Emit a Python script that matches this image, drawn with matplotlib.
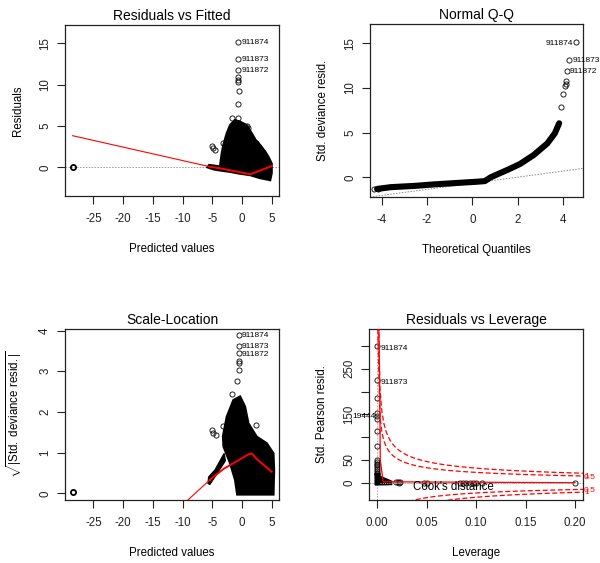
import matplotlib
matplotlib.use('Agg')
import matplotlib.pyplot as plt
import numpy as np

plt.rcParams['font.family'] = ['Liberation Sans', 'DejaVu Sans']
plt.rcParams['mathtext.fontset'] = 'custom'
plt.rcParams['mathtext.rm'] = 'Liberation Sans'
plt.rcParams['mathtext.it'] = 'Liberation Sans:italic'
plt.rcParams['axes.unicode_minus'] = False

# ---------------- data ----------------
obs_labels = ['911874', '911873', '911872']

# Residuals vs Fitted
rvf_blob_x = [-3.4, -3.13, -2.56, -2.0, -1.2, -0.3, 0.8, 1.65, 2.3, 3.05, 3.9, 4.5, 5.0, 5.0, 4.75, 3.0, 1.4, -0.5, -2.0, -3.5, -4.8, -5.8, -5.5, -3.7]
rvf_blob_y = [1.7, 2.7, 4.1, 5.1, 5.7, 5.5, 5.1, 4.1, 3.3, 2.7, 1.9, 1.2, 0.45, -0.7, -1.55, -1.3, -0.95, -0.75, -0.55, -0.4, -0.25, 0.0, 0.28, 0.1]
rvf_pts_x = [-0.6, -0.6, -0.65, -0.44, -0.7, -1.72, -0.7, -5.08, -4.8, -4.5, -3.13, 2.37, 0.8, 1.0]
rvf_pts_y = [10.88, 10.52, 10.3, 9.26, 7.69, 5.92, 5.9, 2.57, 2.3, 2.09, 2.9, 2.9, 5.0, 4.8]
rvf_far_x = [-28.5]
rvf_far_y = [0.05]
rvf_lab_x = [-0.6, -0.6, -0.6]
rvf_lab_y = [15.16, 13.06, 11.77]
rvf_smooth_x = [-28.5, -5.4, -3.7, 1.4, 5.0]
rvf_smooth_y = [3.82, 0.07, -0.12, -0.85, 0.15]

# Normal Q-Q
qq_curve_x = [-4.2, -3.6, -2.5, -1.7, -0.5, 0.2, 0.55, 0.8, 1.2, 1.6, 2.1, 2.7, 3.3, 3.63, 3.82]
qq_curve_y = [-1.3, -1.1, -0.95, -0.79, -0.6, -0.49, -0.42, 0.0, 0.45, 0.9, 1.5, 2.5, 3.8, 4.93, 6.05]
qq_pts_x = [-4.35, -4.15, 3.9, 3.97, 4.07, 4.1, 4.12]
qq_pts_y = [-1.35, -1.3, 7.84, 9.29, 10.22, 10.5, 10.78]
qq_lab_x = [4.56, 4.27, 4.15]
qq_lab_y = [15.1, 13.13, 11.9]
qq_line_intercept = -0.66
qq_line_slope = 0.341

# Scale-Location
sl_blob_x = [-3.2, -2.56, -1.45, -0.32, 0.52, 1.08, 2.49, 4.17, 5.3, 5.4, 5.3, -0.8, -1.16, -2.0, -3.1]
sl_blob_y = [1.4, 1.88, 2.29, 2.38, 2.13, 1.72, 1.39, 1.23, 0.98, 0.57, -0.03, -0.03, 0.33, 0.74, 1.15]
sl_band_x = [-5.7, -5.6, -4.5, -3.0, -2.8, -4.4, -5.4]
sl_band_y = [0.24, 0.40, 0.58, 0.98, 0.80, 0.44, 0.22]
sl_pts_x = [-5.08, -4.95, -4.36, -3.13, 2.37, -1.72, -0.77, -0.55, -0.5, -0.45]
sl_pts_y = [1.56, 1.49, 1.43, 1.65, 1.68, 2.44, 2.77, 3.03, 3.21, 3.26]
sl_far_x = [-28.5]
sl_far_y = [0.02]
sl_lab_x = [-0.49, -0.49, -0.49]
sl_lab_y = [3.89, 3.62, 3.44]
sl_smooth_x = [-28.5, -5.4, -3.1, -1.2, 1.0, 1.65, 2.5, 5.0]
sl_smooth_y = [-2.77, 0.33, 0.6, 0.76, 0.95, 0.98, 0.84, 0.53]

# Residuals vs Leverage
rl_blob_x = [-0.0022, 0.0027, 0.0027, 0.006, 0.0105, 0.0146, 0.0146, -0.0022]
rl_blob_y = [20, 20, 14, 11, 7, 3, -4, -5]
rl_col_x = [0.0] * 9
rl_col_y = [50, 46, 42, 38, 34, 30, 26, 22, 18]
rl_pts_x = [0.0, 0.0, 0.0, 0.0, 0.0, 0.0, 0.0185, 0.0205, 0.022, 0.0226, 0.047, 0.05,
            0.0837, 0.0868, 0.0901, 0.0935, 0.0969, 0.1003, 0.1057, 0.2001]
rl_pts_y = [185, 154, 146, 139, 114, 81, 1, 2, 0, 1, 0, 0, 0, 0, 0, 0, 0, 0, 0, 0]
rl_lab_x = [0.0, 0.0]
rl_lab_y = [300, 225]
rl_lab2_x = [0.0]
rl_lab2_y = [145]
rl_lab2 = ['19444']
rl_smooth_x = [0.0015, 0.0025, 0.003, 0.006, 0.2]
rl_smooth_y = [345, 200, 50, 2, 0]
cook_levels = [0.5, 1.0]
n_coef = 113.5
cook_label_y_upper = [11, 14]
cook_label_y_lower = [-18, -21]

# ---------------- figure ----------------
W, H = 600, 563
fig = plt.figure(figsize=(W / 100, H / 100), dpi=100)


def add_ax(x0, y0, x1, y1):
    return fig.add_axes([x0 / W, 1 - y1 / H, (x1 - x0) / W, (y1 - y0) / H])


ax1 = add_ax(65, 25, 279, 196)
ax2 = add_ax(370, 24, 583, 197)
ax3 = add_ax(65, 329, 279, 500)
ax4 = add_ax(369, 329, 583, 500)

mk = dict(marker='o', ls='none', mfc='none', mec='black', ms=3.7, mew=0.6)
lab_fs = 6.0


def style(ax, title, xlabel, ylabel, xticks, yticks, ytlabels=None):
    ax.set_title(title, fontsize=10, pad=3.5)
    ax.set_xlabel(xlabel, fontsize=8.3, labelpad=13)
    ax.set_ylabel(ylabel, fontsize=8.3, labelpad=11)
    ax.set_xticks(xticks)
    ax.set_yticks(yticks)
    if ytlabels is not None:
        ax.set_yticklabels(ytlabels)
    ax.tick_params(axis='x', direction='out', length=6, width=0.8, labelsize=8.3, pad=6,
                   color='#222222', labelcolor='#222222')
    ax.tick_params(axis='y', direction='out', length=6, width=0.8, labelsize=8.3, pad=4,
                   color='#222222', labelcolor='#222222')
    for lab in ax.get_yticklabels():
        lab.set_rotation(90)
        lab.set_va('center')
    for s in ax.spines.values():
        s.set_linewidth(0.9)
        s.set_color('#222222')


# ---- Residuals vs Fitted ----
ax = ax1
ax.axhline(0, color='#999999', ls=(0, (1.5, 1.5)), lw=0.7, zorder=1)
ax.fill(rvf_blob_x, rvf_blob_y, color='black', ec='black', lw=1.6, zorder=2)
ax.plot(rvf_pts_x, rvf_pts_y, **mk, zorder=3)
ax.plot(rvf_lab_x, rvf_lab_y, **mk, zorder=3)
ax.plot(rvf_far_x, rvf_far_y, **{**mk, 'mew': 1.3}, zorder=3)
ax.plot(rvf_smooth_x[:2], rvf_smooth_y[:2], color='red', lw=0.8, zorder=4)
ax.plot(rvf_smooth_x[1:], rvf_smooth_y[1:], color='red', lw=1.4, zorder=4)
for x, y, t in zip(rvf_lab_x, rvf_lab_y, obs_labels):
    ax.annotate(t, (x, y), xytext=(2.2, -0.5), textcoords='offset points',
                fontsize=lab_fs, va='center', ha='left')
ax.set_xlim(-29.77, 6.23)
ax.set_ylim(-3.47, 17.2)
style(ax, 'Residuals vs Fitted', 'Predicted values', 'Residuals',
      [-25, -20, -15, -10, -5, 0, 5], [0, 5, 10, 15])

# ---- Normal Q-Q ----
ax = ax2
ax.axline((0, qq_line_intercept), slope=qq_line_slope, color='#888888',
          ls=(0, (1.5, 1.5)), lw=0.7, zorder=1)
ax.plot(qq_curve_x, qq_curve_y, color='black', lw=4.4, solid_capstyle='round', zorder=2)
ax.plot(qq_pts_x, qq_pts_y, **mk, zorder=3)
ax.plot(qq_lab_x, qq_lab_y, **mk, zorder=3)
ax.annotate(obs_labels[0], (qq_lab_x[0], qq_lab_y[0]), xytext=(-2.2, -0.5),
            textcoords='offset points', fontsize=lab_fs, va='center', ha='right')
for x, y, t in zip(qq_lab_x[1:], qq_lab_y[1:], obs_labels[1:]):
    ax.annotate(t, (x, y), xytext=(2.2, -0.5), textcoords='offset points',
                fontsize=lab_fs, va='center', ha='left', annotation_clip=False)
ax.set_xlim(-4.51, 4.87)
ax.set_ylim(-2.2, 17.16)
style(ax, 'Normal Q-Q', 'Theoretical Quantiles', 'Std. deviance resid.',
      [-4, -2, 0, 2, 4], [0, 5, 10, 15])

# ---- Scale-Location ----
ax = ax3
ax.fill(sl_blob_x, sl_blob_y, color='black', ec='black', lw=1.6, zorder=2)
ax.fill(sl_band_x, sl_band_y, color='black', ec='black', lw=1.0, zorder=2)
ax.plot(sl_pts_x, sl_pts_y, **mk, zorder=3)
ax.plot(sl_lab_x, sl_lab_y, **mk, zorder=3)
ax.plot(sl_far_x, sl_far_y, **{**mk, 'mew': 1.3}, zorder=3)
ax.plot(sl_smooth_x[:2], sl_smooth_y[:2], color='red', lw=0.8, zorder=4)
ax.plot(sl_smooth_x[1:], sl_smooth_y[1:], color='red', lw=1.4, zorder=4)
for x, y, t in zip(sl_lab_x, sl_lab_y, obs_labels):
    ax.annotate(t, (x, y), xytext=(2.2, -0.5), textcoords='offset points',
                fontsize=lab_fs, va='center', ha='left')
ax.set_xlim(-29.77, 6.23)
ax.set_ylim(-0.165, 4.04)
style(ax, 'Scale-Location', 'Predicted values',
      r'$\sqrt{|\mathrm{Std.\ deviance\ resid.}|}$',
      [-25, -20, -15, -10, -5, 0, 5], [0, 1, 2, 3, 4])

# ---- Residuals vs Leverage ----
ax = ax4
xmin, xmax = -0.0084, 0.2081
ax.axhline(0, color='#aaaaaa', ls=(0, (1.5, 1.5)), lw=0.7, zorder=1)
ax.axvline(0, color='#aaaaaa', ls=(0, (1.5, 1.5)), lw=0.7, zorder=1)
hh = np.linspace(0.0005, xmax, 101)
for c in cook_levels:
    cl = np.sqrt(c * n_coef * (1 - hh) / hh)
    ax.plot(hh, cl, color='red', ls=(0, (4, 2)), lw=0.9, zorder=4)
    ax.plot(hh, -cl, color='red', ls=(0, (4, 2)), lw=0.9, zorder=4)
ax.fill(rl_blob_x, rl_blob_y, color='black', ec='black', lw=1.0, zorder=2)
ax.plot(rl_col_x, rl_col_y, **mk, zorder=3)
ax.plot(rl_pts_x, rl_pts_y, **mk, zorder=3)
ax.plot(rl_lab_x, rl_lab_y, **mk, zorder=3)
ax.plot(rl_smooth_x, rl_smooth_y, color='red', lw=0.9, zorder=4)
ax.axhline(0, xmin=(0.003 - xmin) / (xmax - xmin), xmax=(0.2 - xmin) / (xmax - xmin),
           color='#aaaaaa', ls=(0, (1, 1)), lw=0.8, zorder=5)
for x, y, t in zip(rl_lab_x, rl_lab_y, obs_labels[:2]):
    ax.annotate(t, (x, y), xytext=(2.2, -1.5), textcoords='offset points',
                fontsize=lab_fs, va='center', ha='left')
ax.annotate(rl_lab2[0], (rl_lab2_x[0], rl_lab2_y[0]), xytext=(-1.0, 0),
            textcoords='offset points', fontsize=lab_fs, va='center', ha='right',
            annotation_clip=False)
ax.text(0.036, -10, "Cook's distance", fontsize=8.3, va='center', ha='left', zorder=6)
for c, yu, yl in zip(cook_levels, cook_label_y_upper, cook_label_y_lower):
    lbl = f'{c:g}'
    ax.text(xmax + 0.001, yu, lbl, color='red', fontsize=6, va='center', ha='left', clip_on=False)
    ax.text(xmax + 0.001, yl, lbl, color='red', fontsize=6, va='center', ha='left', clip_on=False)
ax.set_xlim(xmin, xmax)
ax.set_ylim(-38, 337.4)
style(ax, 'Residuals vs Leverage', 'Leverage', 'Std. Pearson resid.',
      [0.00, 0.05, 0.10, 0.15, 0.20], [0, 50, 100, 150, 200, 250, 300],
      ['0', '50', '', '150', '', '250', ''])
ax.set_xticklabels(['0.00', '0.05', '0.10', '0.15', '0.20'])

fig.savefig('out.png', dpi=100)
